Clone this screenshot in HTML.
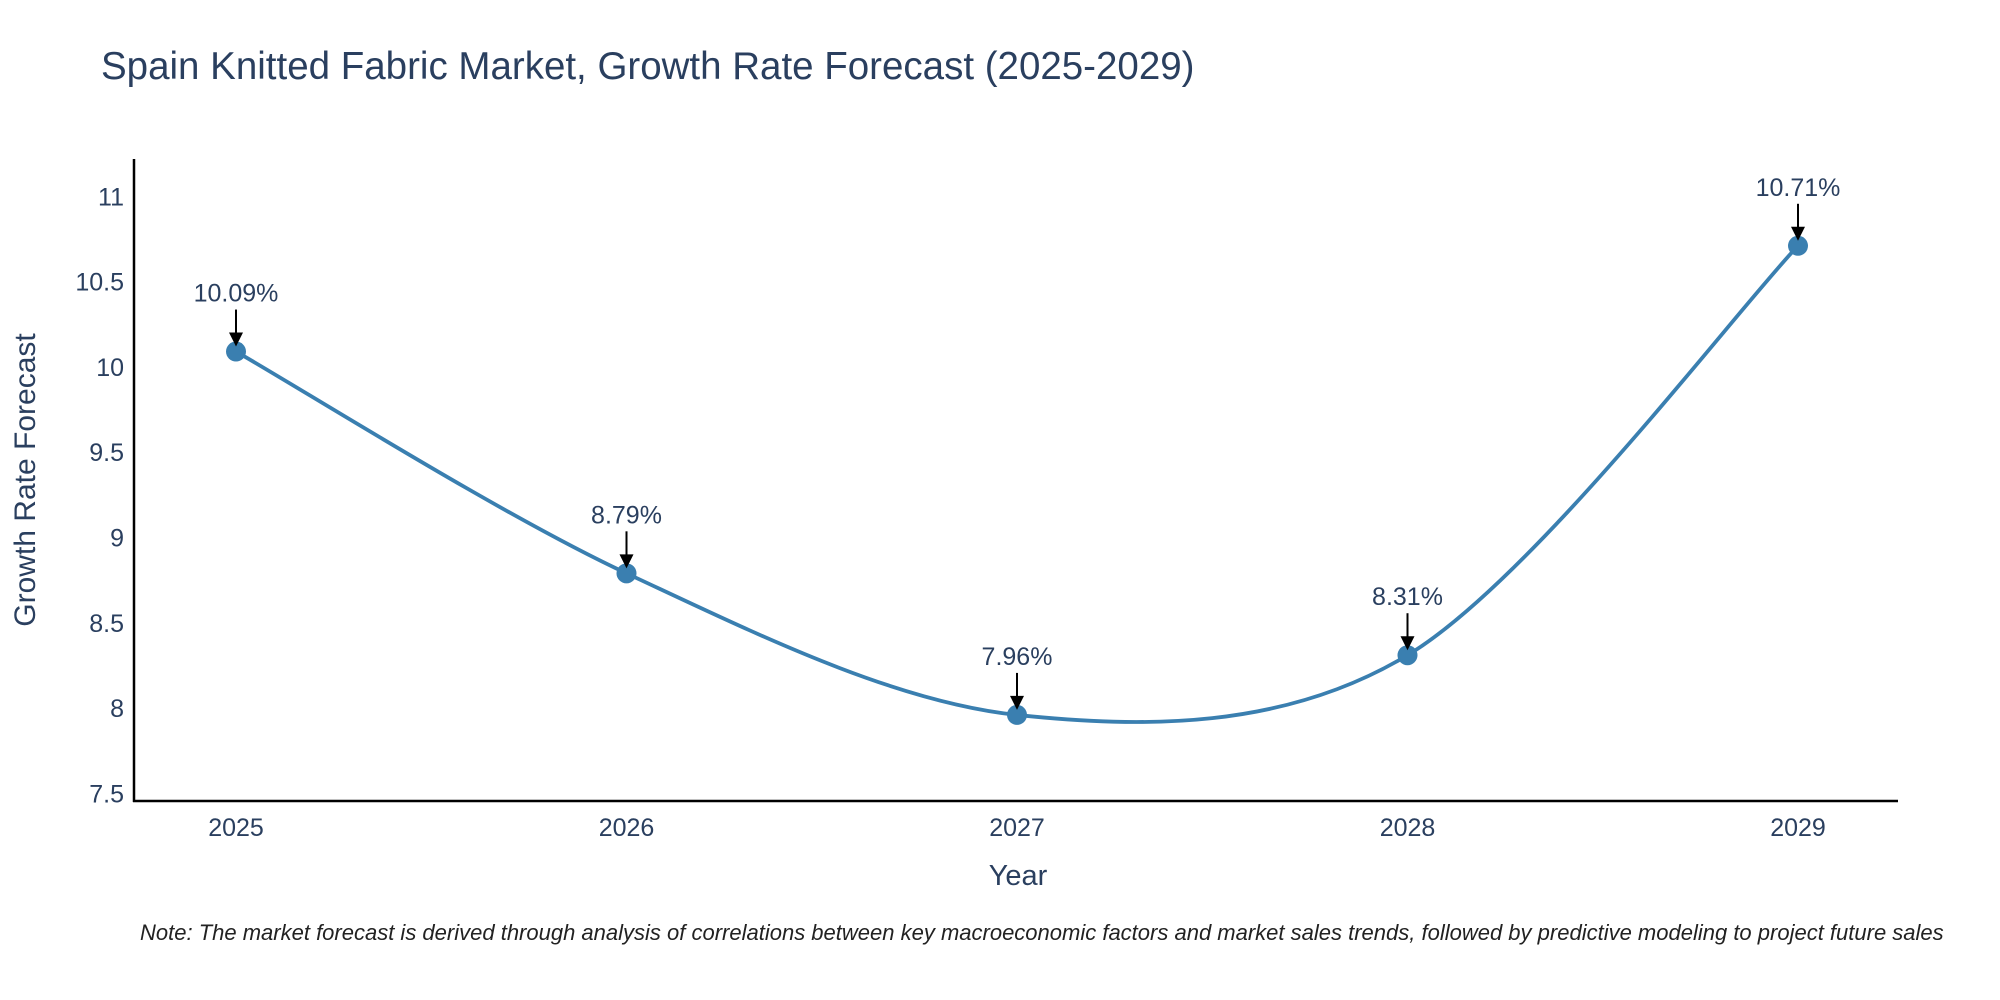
<!DOCTYPE html>
<html><head><meta charset="utf-8"><style>
body{margin:0;background:#fff;}
svg{display:block;font-family:"Liberation Sans",sans-serif;}
</style></head><body>
<svg id="chart" width="2000" height="1000" viewBox="0 0 2000 1000">
<text x="101" y="79" font-size="38.5" fill="#2a3f5f">Spain Knitted Fabric Market, Growth Rate Forecast (2025-2029)</text>
<g id="yticks"></g>
<g id="xticks"></g>
<line x1="134" y1="159" x2="134" y2="802" stroke="#000" stroke-width="2.5"/>
<line x1="133" y1="801" x2="1898" y2="801" stroke="#000" stroke-width="2.5"/>
<path id="line" fill="none" stroke="#3a7fb0" stroke-width="3.8"/>
<g id="points"></g>
<g id="annots"></g>
<text x="1018" y="885" font-size="29" fill="#2a3f5f" text-anchor="middle">Year</text>
<text transform="translate(35,480) rotate(-90)" font-size="30" fill="#2a3f5f" text-anchor="middle">Growth Rate Forecast</text>
<text x="140" y="940" font-size="22" font-style="italic" fill="#222">Note: The market forecast is derived through analysis of correlations between key macroeconomic factors and market sales trends, followed by predictive modeling to project future sales</text>
</svg>
<script>
const years=[2025,2026,2027,2028,2029];
const values=[10.09,8.79,7.96,8.31,10.71];
const yTicks=[7.5,8,8.5,9,9.5,10,10.5,11];
const NS="http://www.w3.org/2000/svg";
function xs(v){return 236+(v-2025)*390.5;}
function ys(v){return 793.4-(v-7.5)*170.6;}
function mk(t,a,p){const e=document.createElementNS(NS,t);for(const k in a)e.setAttribute(k,a[k]);p.appendChild(e);return e;}
const yt=document.getElementById('yticks');
yTicks.forEach(t=>{const e=mk('text',{x:124,y:ys(t)+9,'font-size':25,fill:'#2a3f5f','text-anchor':'end'},yt);e.textContent=String(t);

});
const xt=document.getElementById('xticks');
years.forEach(y=>{const e=mk('text',{x:xs(y),y:836,'font-size':25,fill:'#2a3f5f','text-anchor':'middle'},xt);e.textContent=String(y);

});
const P=years.map((y,i)=>[xs(y),ys(values[i])]);
let d=`M${P[0][0]},${P[0][1]}`;const s=0.16;
for(let i=0;i<P.length-1;i++){const p0=P[Math.max(0,i-1)],p1=P[i],p2=P[i+1],p3=P[Math.min(P.length-1,i+2)];
d+=` C${p1[0]+(p2[0]-p0[0])*s},${p1[1]+(p2[1]-p0[1])*s} ${p2[0]-(p3[0]-p1[0])*s},${p2[1]-(p3[1]-p1[1])*s} ${p2[0]},${p2[1]}`;}
document.getElementById('line').setAttribute('d',d);
const pts=document.getElementById('points'),an=document.getElementById('annots');
P.forEach((p,i)=>{const c=mk('circle',{cx:p[0],cy:p[1],r:10,fill:'#3a7fb0'},pts);


mk('line',{x1:p[0],y1:p[1]-42,x2:p[0],y2:p[1]-16,stroke:'#000','stroke-width':2},an);
mk('path',{d:`M${p[0]-7},${p[1]-19} L${p[0]+7},${p[1]-19} L${p[0]},${p[1]-5}Z`,fill:'#000'},an);
const t=mk('text',{x:p[0],y:p[1]-50,'font-size':25,fill:'#2a3f5f','text-anchor':'middle'},an);t.textContent=values[i].toFixed(2)+'%';

});
</script>
</body></html>
